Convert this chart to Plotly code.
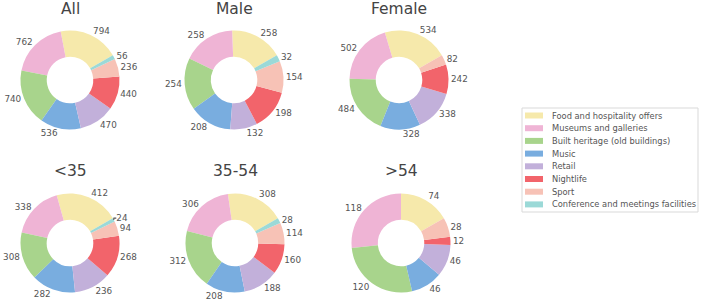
import plotly.graph_objects as go

categories = ["Food and hospitality offers", "Museums and galleries", "Built heritage (old buildings)",
              "Music", "Retail", "Nightlife", "Sport", "Conference and meetings facilities"]
colors = ["#f6e9ab", "#efb4d5", "#a8d48c", "#79addf", "#c2b0da", "#f2646b", "#f7c2b6", "#9bd9d7"]

groups = ["All", "Male", "Female", "<35", "35-54", ">54"]
all_vals = [794, 762, 740, 536, 470, 440, 236, 56]
male_vals = [258, 258, 254, 208, 132, 198, 154, 32]
female_vals = [534, 502, 484, 328, 338, 242, 82, 0]
under35_vals = [412, 338, 308, 282, 236, 268, 94, 24]
mid_vals = [308, 306, 312, 208, 188, 160, 114, 28]
over54_vals = [74, 118, 120, 46, 46, 12, 28, 0]
values = [all_vals, male_vals, female_vals, under35_vals, mid_vals, over54_vals]

W, H = 703, 301
centers = [(70, 80), (234, 80), (399, 80), (70, 243), (235, 243), (401, 243)]
title_y = [9, 9, 9, 171, 171, 171]
R = 49.5
START = 60  # clockwise degrees from 12 o'clock where the first slice begins

fig = go.Figure()
for i, (g, v, (cx, cy)) in enumerate(zip(groups, values, centers)):
    texts = [str(x) if x > 0 else "" for x in v]
    first_angle = 360.0 * v[0] / sum(v)
    fig.add_trace(go.Pie(
        labels=categories, values=v, text=texts, textinfo="text",
        textposition="outside", sort=False, direction="counterclockwise",
        rotation=START - first_angle, hole=0.47,
        marker=dict(colors=colors, line=dict(width=0)),
        textfont=dict(size=8.8, color="#555555"),
        domain=dict(x=[(cx - R) / W, (cx + R) / W],
                    y=[1 - (cy + R) / H, 1 - (cy - R) / H]),
        showlegend=False, hoverinfo="label+value",
    ))
    fig.add_annotation(text=g, x=cx / W, y=1 - title_y[i] / H, xref="paper", yref="paper",
                       showarrow=False, font=dict(size=15.5, color="#444444"),
                       xanchor="center", yanchor="middle")

# compact legend box (like the reference)
LX0, LX1, LY0, LY1 = 522, 698, 108, 212
fig.add_shape(type="rect", xref="paper", yref="paper",
              x0=LX0 / W, x1=LX1 / W, y0=1 - LY1 / H, y1=1 - LY0 / H,
              line=dict(color="#d9d9d9", width=1), fillcolor="white")
step = 12.7
for k, (cat, col) in enumerate(zip(categories, colors)):
    yc = 115.5 + k * step
    fig.add_shape(type="rect", xref="paper", yref="paper",
                  x0=525 / W, x1=543 / W, y0=1 - (yc + 3) / H, y1=1 - (yc - 3) / H,
                  line=dict(width=0), fillcolor=col)
    fig.add_annotation(text=cat, x=550 / W, y=1 - yc / H, xref="paper", yref="paper",
                       showarrow=False, xanchor="left", yanchor="middle",
                       font=dict(size=8.3, color="#555555"))

fig.update_layout(
    width=W, height=H, margin=dict(l=0, r=0, t=0, b=0, autoexpand=False),
    paper_bgcolor="white", plot_bgcolor="white",
    font=dict(family="DejaVu Sans", color="#555555"),
    showlegend=False,
)
fig.write_html("out.html", config={"displayModeBar": False},
               post_script="document.body.style.margin='0';")
